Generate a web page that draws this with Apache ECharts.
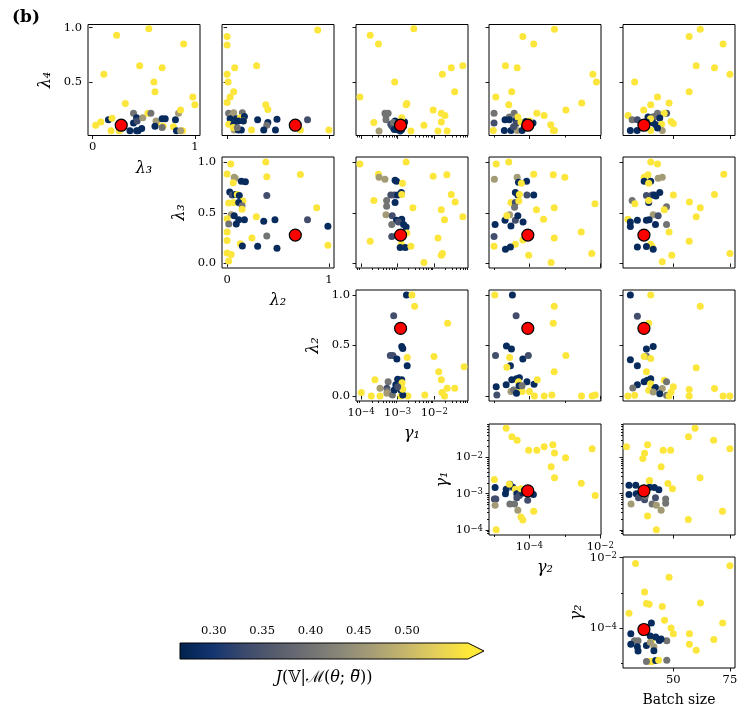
<!DOCTYPE html>
<html><head><meta charset="utf-8">
<script src="https://cdn.jsdelivr.net/npm/echarts@6/dist/echarts.min.js"></script>
<style>html,body{margin:0;padding:0;background:#fff}#c{width:747px;height:720px}</style>
</head><body><div id="c"></div><script>
// J level values (objective colour)
const B = 0.28, S = 0.34, G = 0.40, O = 0.46, Y = 0.56;

// Each panel: [x, y, J]
const l3_l4 = [[0.235,0.93,Y],[0.55,0.99,Y],[0.89,0.85,Y],[0.46,0.65,Y],[0.68,0.63,Y],[0.11,0.57,Y],[0.60,0.50,Y],[0.61,0.41,Y],[0.98,0.36,Y],[1.0,0.29,Y],[0.32,0.30,Y],[0.03,0.10,Y],[0.08,0.13,Y],[0.155,0.15,B],[0.19,0.165,Y],[0.18,0.05,Y],[0.26,0.05,Y],[0.365,0.05,B],[0.40,0.12,B],[0.40,0.21,G],[0.43,0.17,B],[0.445,0.05,B],[0.43,0.05,B],[0.48,0.07,B],[0.435,0.14,S],[0.49,0.17,O],[0.54,0.21,Y],[0.57,0.21,G],[0.63,0.125,Y],[0.62,0.14,O],[0.61,0.09,B],[0.69,0.09,Y],[0.68,0.16,B],[0.71,0.16,B],[0.68,0.08,G],[0.81,0.15,B],[0.79,0.085,Y],[0.82,0.05,B],[0.84,0.21,O],[0.86,0.24,Y],[0.88,0.05,Y],[0.86,0.05,O]];
const l2_l4 = [[0.89,0.98,Y],[0.0,0.92,Y],[0.0,0.84,Y],[0.075,0.63,Y],[0.29,0.65,Y],[0.0,0.57,Y],[0.01,0.50,Y],[0.065,0.41,Y],[0.03,0.36,Y],[0.0,0.31,Y],[0.38,0.29,Y],[0.40,0.245,Y],[0.015,0.21,G],[0.065,0.215,O],[0.15,0.215,G],[0.04,0.18,O],[0.03,0.16,B],[0.09,0.16,B],[0.13,0.17,Y],[0.17,0.18,B],[0.16,0.14,Y],[0.016,0.11,Y],[0.066,0.11,B],[0.07,0.055,O],[0.11,0.055,B],[0.14,0.055,B],[0.06,0.08,Y],[0.10,0.077,G],[0.24,0.055,Y],[0.30,0.15,B],[0.40,0.125,B],[0.39,0.10,G],[0.36,0.055,B],[0.475,0.055,B],[0.49,0.155,B],[0.72,0.055,Y],[0.79,0.15,S],[1.0,0.055,Y],[0.16,0.14,B],[0.11,0.14,B]];
const g1_l4 = [[2.75e-3,0.99,Y],[1.78e-4,0.93,Y],[3.0e-4,0.85,Y],[6.0e-2,0.65,Y],[2.9e-2,0.63,Y],[1.66e-2,0.57,Y],[8.3e-4,0.50,Y],[9.3e-5,0.36,Y],[3.6e-2,0.41,Y],[1.78e-3,0.30,Y],[1.7e-3,0.29,Y],[9.3e-3,0.24,Y],[1.55e-2,0.21,Y],[1.95e-2,0.19,Y],[2.24e-4,0.125,Y],[1.55e-2,0.13,Y],[5.2e-3,0.10,Y],[2.3e-3,0.047,Y],[1.26e-2,0.047,Y],[2.24e-2,0.047,Y],[3.1e-4,0.047,O],[4.5e-4,0.21,G],[5.5e-4,0.21,G],[4.8e-4,0.19,G],[4.8e-4,0.15,G],[6.9e-4,0.094,S],[6.5e-4,0.11,S],[7.5e-4,0.08,S],[8.5e-4,0.14,B],[9.3e-4,0.06,B],[1.17e-3,0.047,B],[1.45e-3,0.094,B],[1.55e-3,0.13,B],[1.29e-3,0.17,Y],[7.6e-4,0.125,G],[1.05e-3,0.125,B],[1.29e-3,0.06,B],[8.1e-4,0.06,B],[1.0e-3,0.10,B]];
const g2_l4 = [[5.1e-4,0.985,Y],[6.5e-5,0.92,Y],[1.32e-4,0.85,Y],[2.1e-5,0.65,Y],[4.5e-5,0.63,Y],[6.2e-3,0.57,Y],[7.8e-3,0.50,Y],[1.12e-5,0.36,Y],[3.16e-5,0.41,Y],[2.6e-5,0.29,Y],[3.0e-3,0.305,Y],[1.07e-3,0.24,Y],[1.62e-4,0.21,Y],[2.6e-4,0.19,Y],[4.0e-4,0.105,Y],[4.7e-4,0.052,Y],[5.1e-4,0.052,Y],[1.0e-5,0.21,G],[1.0e-5,0.12,S],[9.5e-6,0.052,Y],[2.7e-5,0.175,G],[3.7e-5,0.21,G],[2.04e-5,0.15,B],[2.7e-5,0.15,B],[4.2e-5,0.15,B],[4.7e-5,0.175,Y],[4.2e-5,0.115,S],[1.95e-5,0.052,B],[3.0e-5,0.052,B],[4.5e-5,0.052,O],[6.2e-5,0.052,B],[5.75e-5,0.13,Y],[1.26e-4,0.12,B],[7.9e-5,0.135,B],[1.0e-4,0.14,Y],[7.2e-5,0.085,B],[3.55e-5,0.085,S]];
const bs_l4 = [[61.9,0.985,Y],[57.0,0.92,Y],[72.0,0.85,Y],[60.1,0.65,Y],[68.2,0.63,Y],[75.0,0.57,Y],[32.9,0.50,Y],[57.0,0.41,Y],[43.0,0.36,Y],[48.1,0.305,Y],[40.0,0.29,Y],[36.9,0.24,Y],[30.0,0.19,Y],[43.0,0.21,G],[47.0,0.21,S],[46.0,0.21,Y],[31.8,0.15,G],[34.1,0.15,S],[38.8,0.175,B],[41.1,0.175,B],[41.5,0.175,G],[44.0,0.167,B],[41.1,0.12,B],[42.3,0.105,B],[39.9,0.16,Y],[44.8,0.11,Y],[49.0,0.135,Y],[50.0,0.115,Y],[31.0,0.052,B],[34.0,0.052,B],[40.0,0.052,Y],[45.1,0.052,O],[43.0,0.074,B],[38.1,0.13,B],[36.2,0.083,B]];
const l2_l3 = [[0.036,0.98,Y],[0.38,1.0,Y],[0.39,0.855,Y],[0.72,0.877,Y],[0.0,0.883,Y],[0.07,0.85,O],[0.08,0.84,O],[0.14,0.81,B],[0.18,0.805,B],[0.06,0.795,Y],[0.026,0.705,B],[0.05,0.675,S],[0.08,0.68,B],[0.1,0.68,Y],[0.12,0.67,B],[0.016,0.595,Y],[0.065,0.60,Y],[0.156,0.617,Y],[0.114,0.60,B],[0.147,0.568,G],[0.147,0.535,Y],[0.39,0.67,S],[0.88,0.55,Y],[0.04,0.48,O],[0.07,0.47,B],[0.0,0.44,Y],[0.016,0.39,G],[0.09,0.39,B],[0.114,0.43,B],[0.17,0.43,B],[0.287,0.46,Y],[0.36,0.415,B],[0.47,0.43,B],[0.79,0.43,S],[0.99,0.367,B],[0.0,0.31,Y],[0.244,0.25,Y],[0.39,0.27,G],[0.0,0.227,Y],[0.13,0.195,Y],[0.15,0.172,B],[0.30,0.169,B],[0.49,0.15,B],[0.99,0.18,Y],[0.0,0.104,Y],[0.04,0.088,Y],[0.016,0.023,Y]];
const g1_l3 = [[9.3e-5,0.98,Y],[1.7e-3,1.0,Y],[3.0e-4,0.88,Y],[3.1e-4,0.85,O],[4.5e-4,0.83,O],[8.5e-4,0.82,B],[9.3e-4,0.81,B],[1.35e-3,0.79,Y],[9.3e-3,0.86,Y],[2.2e-2,0.875,Y],[1.26e-3,0.70,B],[6.5e-4,0.675,S],[8.1e-4,0.675,S],[1.0e-3,0.675,B],[1.29e-3,0.68,Y],[2.24e-4,0.62,Y],[5.0e-4,0.62,G],[8.5e-4,0.60,B],[5.0e-4,0.565,G],[2.6e-3,0.55,Y],[2.9e-2,0.68,Y],[3.7e-2,0.605,Y],[1.55e-2,0.53,Y],[4.8e-4,0.48,O],[7.1e-4,0.47,S],[1.29e-3,0.435,B],[9.3e-4,0.425,B],[1.05e-3,0.41,S],[6.9e-4,0.385,G],[1.45e-3,0.385,B],[1.7e-3,0.36,B],[6.0e-2,0.46,Y],[1.9e-2,0.43,Y],[6.9e-4,0.265,S],[1.78e-3,0.30,Y],[1.78e-4,0.22,Y],[1.26e-2,0.25,Y],[1.26e-3,0.19,Y],[1.17e-3,0.157,B],[1.62e-3,0.157,B],[2.3e-3,0.17,Y],[1.66e-2,0.098,Y],[1.55e-2,0.082,Y],[5.2e-3,0.01,Y]];
const g2_l3 = [[1.15e-5,0.98,Y],[2.6e-5,1.0,Y],[1.02e-5,0.83,O],[4.5e-5,0.85,O],[4.9e-5,0.80,B],[8.3e-5,0.81,B],[5.9e-5,0.79,Y],[1.32e-4,0.88,Y],[4.7e-4,0.875,Y],[1.0e-3,0.85,Y],[4.0e-5,0.70,B],[4.7e-5,0.675,B],[5.2e-5,0.68,Y],[8.5e-5,0.675,S],[1.32e-4,0.675,B],[3.0e-5,0.60,Y],[4.0e-5,0.60,S],[3.8e-5,0.555,G],[5.0e-5,0.615,Y],[1.58e-4,0.53,Y],[5.0e-4,0.55,Y],[7.1e-3,0.59,Y],[2.75e-5,0.48,O],[2.04e-5,0.425,B],[2.3e-5,0.47,Y],[4.0e-5,0.425,S],[4.7e-5,0.47,B],[6.6e-5,0.41,B],[3.0e-5,0.37,B],[2.5e-4,0.435,Y],[1.07e-5,0.385,B],[1.0e-5,0.265,S],[6.5e-5,0.23,Y],[5.0e-4,0.25,Y],[2.9e-3,0.31,Y],[1.0e-5,0.17,Y],[4.0e-5,0.19,Y],[2.1e-5,0.14,B],[2.9e-5,0.163,B],[9.5e-5,0.08,Y],[5.75e-3,0.098,Y],[4.1e-4,0.01,Y]];
const bs_l3 = [[40.0,1.0,Y],[43.0,0.98,Y],[37.1,0.85,Y],[38.8,0.875,Y],[43.3,0.84,O],[45.1,0.85,O],[37.1,0.81,B],[40.0,0.81,B],[39.1,0.79,Y],[72.3,0.88,Y],[44.0,0.70,B],[38.1,0.67,S],[40.6,0.675,S],[41.5,0.675,B],[42.3,0.665,B],[50.0,0.675,Y],[68.2,0.68,Y],[57.1,0.605,Y],[61.9,0.55,Y],[60.1,0.46,Y],[31.8,0.62,G],[33.0,0.59,Y],[39.1,0.60,B],[39.1,0.62,Y],[47.0,0.56,G],[46.0,0.53,Y],[41.1,0.48,O],[43.3,0.47,S],[29.9,0.435,Y],[31.0,0.41,B],[31.0,0.365,B],[34.1,0.425,B],[38.1,0.425,B],[39.3,0.43,B],[42.1,0.385,B],[47.0,0.385,G],[48.1,0.31,Y],[57.0,0.22,Y],[39.9,0.19,Y],[40.6,0.167,Y],[34.1,0.163,B],[38.1,0.167,B],[41.1,0.14,B],[49.3,0.08,Y],[75.0,0.098,Y],[45.1,0.016,Y]];
const g1_l2 = [[1.74e-3,1.0,B],[2.45e-3,1.0,Y],[2.9e-3,0.89,Y],[7.8e-4,0.795,S],[2.3e-2,0.72,Y],[1.29e-3,0.49,B],[1.38e-3,0.47,B],[6.3e-4,0.40,S],[7.4e-4,0.40,S],[9.5e-4,0.365,B],[1.82e-3,0.38,Y],[1.82e-3,0.30,B],[9.8e-3,0.39,Y],[1.32e-2,0.24,Y],[6.5e-2,0.29,Y],[1.55e-2,0.16,Y],[2.24e-2,0.076,Y],[3.6e-2,0.076,Y],[1.62e-2,0.033,Y],[1.9e-2,0.0,Y],[5.5e-3,0.01,Y],[1.9e-3,0.0,Y],[1.23e-3,0.0,Y],[3.3e-4,0.0,Y],[1.9e-4,0.0,Y],[1.02e-4,0.033,Y],[2.4e-4,0.16,Y],[3.3e-4,0.076,O],[5.5e-4,0.14,G],[5.1e-4,0.076,S],[5.2e-4,0.05,G],[5.1e-4,0.026,O],[7.2e-4,0.01,G],[8.1e-4,0.06,B],[8.9e-4,0.11,B],[1.0e-3,0.165,B],[1.29e-3,0.16,B],[1.23e-3,0.06,B],[1.38e-3,0.01,B],[1.38e-3,0.066,Y],[1.32e-3,0.13,Y],[1.0e-3,0.09,S]];
const g2_l2 = [[1.05e-5,1.0,Y],[3.3e-5,1.0,B],[4.2e-5,0.795,S],[5.0e-4,0.89,Y],[4.7e-4,0.72,Y],[2.24e-5,0.495,B],[3.1e-5,0.465,B],[1.1e-5,0.40,S],[2.75e-5,0.38,Y],[2.9e-5,0.30,B],[2.3e-5,0.285,Y],[6.5e-5,0.365,B],[9.3e-5,0.40,S],[1.07e-3,0.40,Y],[5.0e-4,0.24,Y],[1.15e-5,0.09,B],[1.2e-5,0.01,S],[2.2e-5,0.11,B],[3.16e-5,0.16,B],[4.3e-5,0.17,B],[5.2e-5,0.18,B],[4.9e-5,0.14,Y],[3.0e-5,0.043,O],[3.55e-5,0.06,G],[5.5e-5,0.076,Y],[6.2e-5,0.043,Y],[4.3e-5,0.026,B],[8.5e-5,0.14,B],[1.35e-4,0.115,B],[1.66e-4,0.16,Y],[1.0e-4,0.043,Y],[1.38e-4,0.0,Y],[2.6e-4,0.0,Y],[4.3e-4,0.01,Y],[2.95e-3,0.0,Y],[5.9e-3,0.0,Y],[7.2e-3,0.01,Y],[5.1e-5,0.1,B],[6.2e-5,0.1,G]];
const bs_l2 = [[31.0,1.0,B],[40.0,1.0,Y],[61.9,0.89,Y],[34.1,0.79,S],[39.1,0.72,Y],[41.1,0.49,B],[38.1,0.465,B],[31.0,0.36,B],[38.1,0.395,G],[37.1,0.39,Y],[40.0,0.37,Y],[34.1,0.30,B],[60.1,0.28,Y],[38.1,0.24,Y],[37.1,0.14,B],[38.5,0.155,B],[40.0,0.17,B],[39.9,0.12,Y],[34.1,0.11,B],[32.1,0.08,G],[46.0,0.155,Y],[47.0,0.14,G],[50.0,0.09,Y],[42.1,0.083,B],[41.1,0.056,B],[45.1,0.073,O],[39.1,0.056,Y],[41.1,0.04,O],[44.0,0.023,B],[47.0,0.007,G],[49.0,0.04,Y],[48.1,0.0,Y],[57.0,0.063,Y],[57.0,0.0,Y],[68.2,0.073,Y],[72.0,0.0,Y],[75.0,0.0,Y],[29.9,0.0,Y],[32.9,0.007,Y]];
const g2_g1 = [[2.2e-5,6.3e-2,Y],[3.2e-5,3.7e-2,Y],[4.5e-5,2.95e-2,Y],[9.5e-5,1.58e-2,Y],[1.62e-4,1.58e-2,Y],[2.6e-4,1.95e-2,Y],[4.6e-4,2.24e-2,Y],[5.1e-4,1.32e-2,Y],[1.05e-3,9.8e-3,Y],[5.9e-3,1.74e-2,Y],[4.1e-4,5.5e-3,Y],[5.1e-4,2.75e-3,Y],[2.9e-3,1.95e-3,Y],[7.2e-3,8.9e-4,Y],[1.02e-5,2.45e-3,Y],[1.07e-5,1.48e-3,B],[1.02e-5,7.2e-4,S],[1.12e-5,7.2e-4,S],[1.07e-5,4.8e-4,O],[2.1e-5,1.0e-3,B],[2.2e-5,1.32e-3,B],[2.8e-5,1.82e-3,B],[3.4e-5,1.51e-3,B],[2.7e-5,1.82e-3,Y],[4.0e-5,1.32e-3,Y],[4.4e-5,1.0e-3,B],[4.4e-5,7.8e-4,S],[5.2e-5,8.9e-4,S],[6.5e-5,1.05e-3,B],[5.75e-5,1.38e-3,Y],[7.2e-5,1.23e-3,B],[1.29e-4,9.5e-4,B],[8.9e-5,6.6e-4,S],[2.8e-5,5.2e-4,G],[3.8e-5,5.2e-4,G],[4.7e-5,3.5e-4,O],[5.75e-5,2.3e-4,Y],[6.5e-5,1.9e-4,Y],[1.32e-4,3.3e-4,Y],[1.15e-5,1.02e-4,Y]];
const bs_g1 = [[29.3,1.95e-2,Y],[38.6,2.24e-2,Y],[37.3,1.29e-2,Y],[36.5,9.3e-3,Y],[45.5,1.58e-2,Y],[48.8,1.58e-2,Y],[56.7,3.7e-2,Y],[59.6,6.3e-2,Y],[67.8,2.95e-2,Y],[75.0,1.74e-2,Y],[44.6,5.5e-3,Y],[47.6,1.9e-3,Y],[49.6,1.38e-3,Y],[61.8,2.75e-3,Y],[39.4,2.24e-3,Y],[71.7,3.3e-4,Y],[56.6,1.95e-4,Y],[38.6,2.45e-4,Y],[42.5,1.02e-4,Y],[44.6,3.5e-4,O],[30.4,1.7e-3,B],[33.4,1.7e-3,B],[30.4,9.5e-4,B],[33.6,1.0e-3,B],[31.3,5.2e-4,O],[34.6,7.8e-4,S],[37.3,6.8e-4,S],[37.6,8.5e-4,G],[39.5,1.51e-3,B],[39.5,2.3e-3,Y],[41.6,1.48e-3,B],[43.6,1.29e-3,B],[42.1,7.8e-4,S],[40.6,5.2e-4,G],[42.5,4.8e-4,O],[46.6,7.2e-4,G],[46.6,5.5e-4,G],[38.3,1.12e-3,Y]];
const bs_g2 = [[33.3,6.9e-3,Y],[75.0,5.9e-3,Y],[48.1,2.8e-3,Y],[37.3,1.05e-3,Y],[38.1,5.0e-4,Y],[39.3,4.7e-4,Y],[45.1,4.1e-4,Y],[62.0,5.1e-4,Y],[30.4,2.6e-4,Y],[46.1,1.66e-4,Y],[71.8,1.38e-4,Y],[49.0,1.0e-4,Y],[50.0,6.8e-5,Y],[57.1,6.8e-5,Y],[67.9,4.7e-5,Y],[57.1,3.4e-5,Y],[60.1,2.3e-5,Y],[40.3,1.38e-4,B],[31.2,6.8e-5,B],[32.8,4.3e-5,G],[34.4,4.3e-5,G],[31.2,3.4e-5,B],[34.1,2.9e-5,B],[34.4,2.2e-5,B],[38.1,3.16e-5,B],[40.3,4.4e-5,Y],[39.8,5.9e-5,B],[42.2,5.5e-5,B],[43.8,4.4e-5,B],[47.1,4.3e-5,G],[41.4,2.9e-5,O],[41.4,2.24e-5,B],[39.3,1.1e-5,Y],[40.6,1.1e-5,Y],[38.1,1.1e-5,G],[42.2,1.17e-5,B],[43.5,1.2e-5,Y],[47.1,1.2e-5,G],[39.8,3.9e-5,O],[44.6,4.8e-5,B]];

// best trial (red marker)
const best = {l3:0.28, l4:0.10, l2:0.67, g1:1.2e-3, g2:9.0e-5, bs:37};

// axis tick values
const linTicksX = [0, 1];
const linTicksY = [0, 0.5, 1];
const l4TicksY = [0.5, 1];
const batchTicks = [50, 75];
const g1Ticks = [1e-4, 1e-3, 1e-2];
const g1Minor = [8e-5,9e-5,2e-4,3e-4,4e-4,5e-4,6e-4,7e-4,8e-4,9e-4,2e-3,3e-3,4e-3,5e-3,6e-3,7e-3,8e-3,9e-3,2e-2,3e-2,4e-2,5e-2,6e-2,7e-2,8e-2];
const g2Ticks = [1e-4, 1e-2];
const g2Minor = [1e-5, 1e-3];
const cbTicks = [0.30, 0.35, 0.40, 0.45, 0.50];
const cbRange = [0.265, 0.563];
const cividis = ['#00224e','#123570','#3b496c','#575d6d','#707173','#8a8779','#a69d75','#c4b56c','#e4cf5b','#fee838'];

const AX = {
  l3:{name:'λ₃', min:-0.045, max:1.05, x:linTicksX, y:linTicksY},
  l4:{name:'λ₄', min:0.005, max:1.03, x:linTicksX, y:l4TicksY},
  l2:{name:'λ₂', min:-0.05, max:1.05, x:linTicksX, y:linTicksY},
  g1:{name:'γ₁', log:true, min:7.3e-5, max:0.083, x:g1Ticks, y:g1Ticks, minor:g1Minor},
  g2:{name:'γ₂', log:true, min:7.2e-6, max:1.05e-2, x:g2Ticks, y:g2Ticks, minor:g2Minor},
  bs:{name:'Batch size', min:27.75, max:77.25, x:batchTicks, y:batchTicks, roman:true}
};
const colKeys = ['l3','l2','g1','g2','bs'];
const rowKeys = ['l4','l3','l2','g1','g2'];
const panelData = {
  'l3_l4':l3_l4,'l2_l4':l2_l4,'g1_l4':g1_l4,'g2_l4':g2_l4,'bs_l4':bs_l4,
  'l2_l3':l2_l3,'g1_l3':g1_l3,'g2_l3':g2_l3,'bs_l3':bs_l3,
  'g1_l2':g1_l2,'g2_l2':g2_l2,'bs_l2':bs_l2,
  'g2_g1':g2_g1,'bs_g1':bs_g1,'bs_g2':bs_g2
};

const colLeft = [88, 222, 356, 489, 623];
const rowTop = [24.5, 157, 290, 424, 557];
const PW = 112, PH = 111;
const FONT = 'DejaVu Serif';
const TICKFS = 11.5;
const RICH = {
  b:{fontFamily:FONT, fontSize:TICKFS, color:'#000', verticalAlign:'bottom', lineHeight:12},
  s:{fontFamily:FONT, fontSize:8.5, color:'#000', verticalAlign:'top', lineHeight:9, padding:[0,0,4,0]}
};

function tf(a){ return a.log ? (v => Math.log10(v)) : (v => v); }
function fmt(key, dim, v){
  const a = AX[key];
  if (a.log) { const e = Math.round(v); return '{b|10}{s|' + (e < 0 ? '−' : '') + Math.abs(e) + '}'; }
  if (key === 'bs') return String(Math.round(v));
  if (dim === 'x') return String(Math.round(v));
  return v.toFixed(1);
}
function makeAxis(dim, key, gi, diag, minor){
  const a = AX[key], f = tf(a);
  const vals = (minor ? a.minor : a[dim]).map(f);
  const o = {
    type:'value', gridIndex:gi, min:f(a.min), max:f(a.max),
    position: dim === 'x' ? 'bottom' : 'left',
    axisLine:{show:false}, splitLine:{show:false},
    axisTick:{show:true, inside:false, customValues:vals, length: minor ? 2 : 3.5, lineStyle:{color:'#000', width:0.9}},
    axisLabel:{show: diag && !minor, customValues:vals, formatter: v => fmt(key, dim, v), fontFamily:FONT, fontSize:TICKFS, color:'#000', margin:6, rich:RICH}
  };
  if (diag && !minor) {
    o.name = a.name; o.nameLocation = 'middle';
    o.nameGap = dim === 'x' ? 25 : 34;
    if (dim === 'y' && a.log) o.nameGap = 38;
    o.nameTextStyle = {fontFamily:FONT, fontSize: a.roman ? 14 : 16, color:'#000', fontStyle: a.roman ? 'normal' : 'italic'};
    if (dim === 'y') o.nameRotate = 90;
  }
  return o;
}

const option = {animation:false, backgroundColor:'#fff', grid:[], xAxis:[], yAxis:[], series:[], graphic:[]};
const bestSeries = [];
let gi = 0;
for (let r = 0; r < 5; r++) {
  for (let c = r; c < 5; c++) {
    const xk = colKeys[c], yk = rowKeys[r];
    const diag = (r === c);
    option.grid.push({left:colLeft[c], top:rowTop[r], width:PW, height:PH, show:true, borderColor:'#000', borderWidth:1, backgroundColor:'#fff'});
    const xi = option.xAxis.length;
    option.xAxis.push(makeAxis('x', xk, gi, diag, false));
    if (AX[xk].log) option.xAxis.push(makeAxis('x', xk, gi, diag, true));
    const yi = option.yAxis.length;
    option.yAxis.push(makeAxis('y', yk, gi, diag, false));
    if (AX[yk].log) option.yAxis.push(makeAxis('y', yk, gi, diag, true));
    const fx = tf(AX[xk]), fy = tf(AX[yk]);
    const pts = panelData[xk + '_' + yk];
    option.series.push({
      type:'scatter', xAxisIndex:xi, yAxisIndex:yi, symbolSize:7, silent:true,
      itemStyle:{opacity:1}, data: pts.map(p => [fx(p[0]), fy(p[1]), p[2]])
    });
    bestSeries.push({
      type:'scatter', xAxisIndex:xi, yAxisIndex:yi, symbolSize:12, silent:true, z:5,
      itemStyle:{color:'#ff0000', borderColor:'#000', borderWidth:1.2, opacity:1},
      data:[[fx(best[xk]), fy(best[yk])]]
    });
    gi++;
  }
}
const nScatter = option.series.length;
option.series.push(...bestSeries);

// colour bar
const cbGrid = gi;
const cbLeft = 180, cbTop = 643, cbW = 288, cbH = 16;
option.grid.push({left:cbLeft, top:cbTop, width:cbW, height:cbH, show:false});
const cbX = option.xAxis.length;
option.xAxis.push({
  type:'value', gridIndex:cbGrid, min:cbRange[0], max:cbRange[1], position:'top',
  axisLine:{show:false}, splitLine:{show:false},
  axisTick:{show:true, customValues:cbTicks, length:3.5, lineStyle:{color:'#000', width:0.9}},
  axisLabel:{customValues:cbTicks, formatter:v => v.toFixed(2), fontFamily:FONT, fontSize:TICKFS, color:'#000', margin:6}
});
const cbName = ['J', '(𝕍|ℳ(', 'θ', '; ', 'θ', '))'];
const cbItal = [true, false, true, false, true, false];
option.xAxis.push({
  type:'value', gridIndex:cbGrid, min:cbRange[0], max:cbRange[1], position:'bottom',
  axisLine:{show:false}, axisTick:{show:false}, axisLabel:{show:false}, splitLine:{show:false},
  name: cbName.map((t, i) => cbItal[i] ? '{i|' + t + '}' : '{n|' + t + '}').join(''),
  nameLocation:'middle', nameGap:11,
  nameTextStyle:{fontFamily:FONT, fontSize:16, color:'#000', rich:{
    i:{fontFamily:FONT, fontSize:16, fontStyle:'italic', color:'#000'},
    n:{fontFamily:FONT, fontSize:16, color:'#000'}}}
});
const cbY = option.yAxis.length;
option.yAxis.push({type:'value', gridIndex:cbGrid, min:0, max:1, show:false});
const stops = cividis.map((c, i) => ({offset: i / (cividis.length - 1), color: c}));
option.series.push({
  type:'custom', xAxisIndex:cbX, yAxisIndex:cbY, data:[[0]], silent:true, clip:false,
  renderItem: function(params, api){
    const p0 = api.coord([cbRange[0], 0]), p1 = api.coord([cbRange[1], 1]);
    const x0 = p0[0], x1 = p1[0], yb = p0[1], yt = p1[1], h = yb - yt, tip = x1 + h, ym = (yt + yb) / 2;
    return {type:'group', children:[
      {type:'rect', shape:{x:x0, y:yt, width:x1 - x0, height:h}, style:{fill:new echarts.graphic.LinearGradient(0,0,1,0,stops)}},
      {type:'polygon', shape:{points:[[x1,yt],[tip,ym],[x1,yb]]}, style:{fill:cividis[cividis.length-1]}},
      {type:'polygon', shape:{points:[[x0,yt],[x1,yt],[tip,ym],[x1,yb],[x0,yb]]}, style:{fill:'none', stroke:'#000', lineWidth:1}}
    ]};
  }
});

option.visualMap = [{
  type:'continuous', show:false, min:cbRange[0], max:cbRange[1], dimension:2,
  seriesIndex: Array.from({length:nScatter}, (_, i) => i),
  inRange:{color:cividis}
}];

// tilde accent over the last theta of the colour-bar label (measured from the label text)
const ctx = document.createElement('canvas').getContext('2d');
function w(t, ital){ ctx.font = (ital ? 'italic ' : '') + '16px "' + FONT + '"'; return ctx.measureText(t).width; }
const widths = cbName.map((t, i) => w(t, cbItal[i]));
const total = widths.reduce((a, b) => a + b, 0);
const startX = cbLeft + cbW / 2 - total / 2;
const thetaX = startX + widths.slice(0, 4).reduce((a, b) => a + b, 0) + widths[4] / 2 + 1;

option.graphic = [
  {type:'text', left:12, top:9, style:{text:'(b)', font:'bold 17px "DejaVu Serif"', fill:'#000'}},
  {type:'text', x:thetaX, y:cbTop + cbH + 11 + 1, style:{text:'~', font:'12px "DejaVu Serif"', fill:'#000', align:'center', verticalAlign:'middle'}}
];

const chart = echarts.init(document.getElementById('c'), null, {renderer:'canvas'});
chart.setOption(option);
</script></body></html>
